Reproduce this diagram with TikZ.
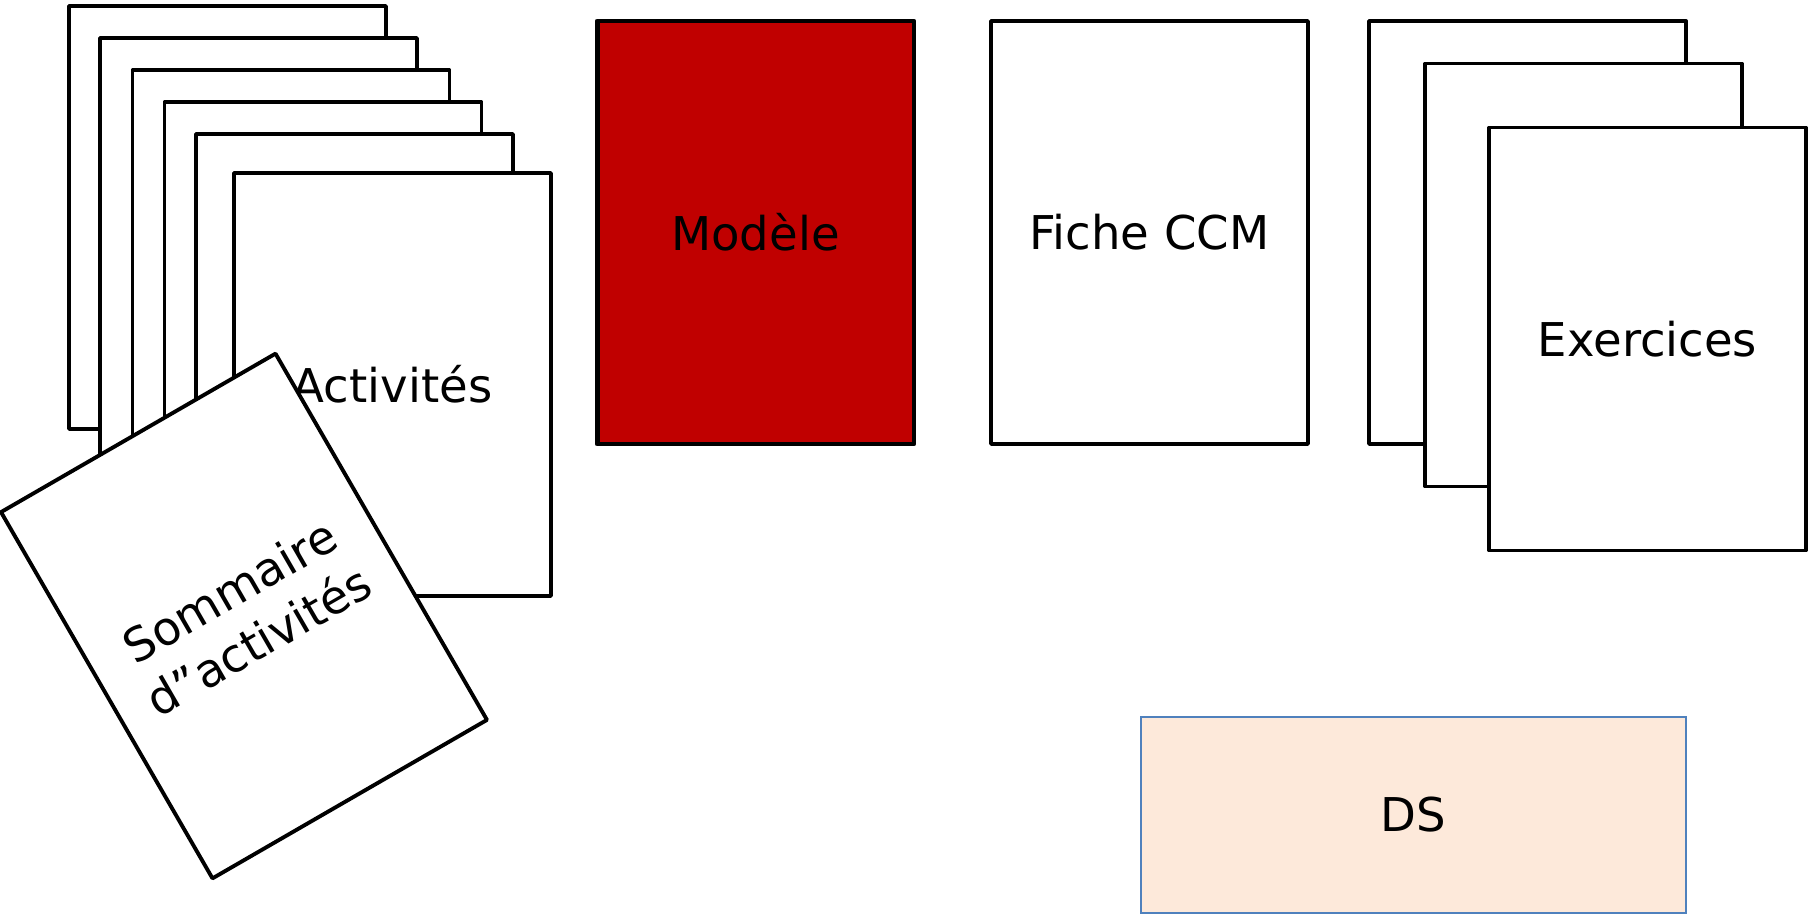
\documentclass[tikz,border=0pt]{standalone}
\usepackage{fontspec}
\setmainfont{DejaVu Sans}
\definecolor{modelred}{RGB}{192,0,0}
\definecolor{dsfill}{RGB}{253,233,218}
\definecolor{dsline}{RGB}{79,129,189}
\begin{document}
\begin{tikzpicture}[x=0.02cm, y=-0.02cm,
  sheet/.style={draw=black, fill=white, line width=2.2pt, line join=round,
    minimum width=6.34cm, minimum height=8.46cm, inner sep=0pt,
    font=\fontsize{26.5}{33}\selectfont, align=center},
  modelsheet/.style={sheet, fill=modelred, line width=2.8pt},
  dsbox/.style={draw=dsline, fill=dsfill, line width=0.9pt,
    minimum width=10.9cm, minimum height=3.92cm, inner sep=0pt,
    font=\fontsize{26.5}{33}\selectfont}]
\useasboundingbox (0,0) rectangle (1814,915);

% stack of activity sheets, back to front
\node[sheet] (act1) at (227.5,217.5) {};
\node[sheet] (act2) at (258.5,249.5) {};
\node[sheet] (act3) at (291,281.5) {};
\node[sheet] (act4) at (323,313.5) {};
\node[sheet] (act5) at (354.5,345.5) {};
\node[sheet] (act6) at (392.5,384.5) {Activités};

% summary sheet lying across the stack
\node[sheet, rotate=30] (summary) at (244,616) {Sommaire\\d”activités};

% single sheets
\node[modelsheet] (model) at (755.5,232.5) {Modèle};
\node[sheet] (ccm) at (1149.5,232.5) {Fiche CCM};

% stack of exercise sheets
\node[sheet] (ex1) at (1527.5,232.5) {};
\node[sheet] (ex2) at (1583.5,275) {};
\node[sheet] (ex3) at (1647.5,339) {Exercices};

% test box
\node[dsbox] (ds) at (1413.5,815) {DS};
\end{tikzpicture}
\end{document}
